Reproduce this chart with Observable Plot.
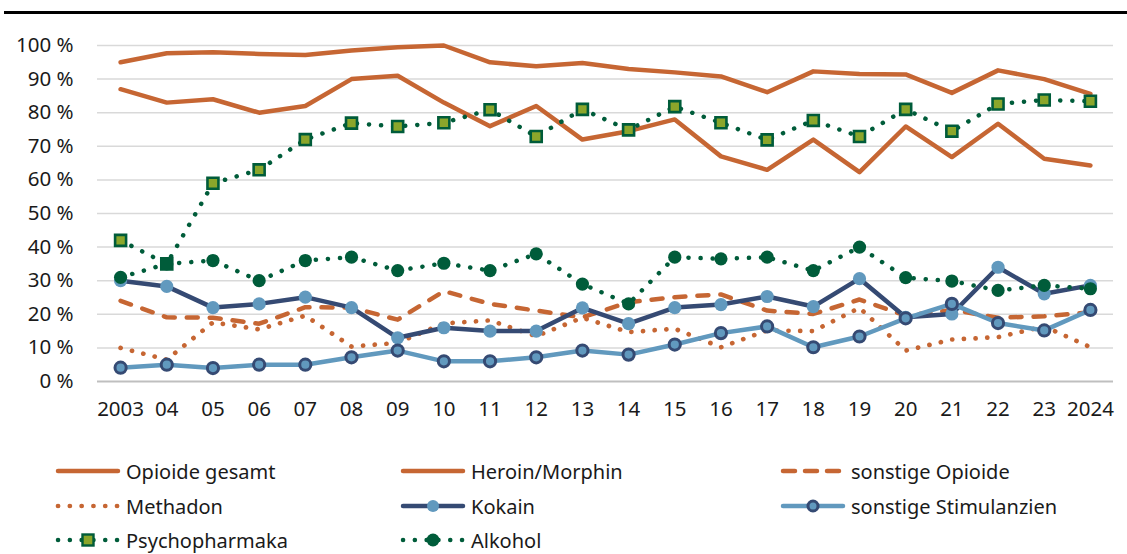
<!DOCTYPE html>
<html><head><meta charset="utf-8">
<script src="https://cdn.jsdelivr.net/npm/d3@7"></script>
<script src="https://cdn.jsdelivr.net/npm/@observablehq/plot@0.6"></script>
<style>
body{margin:0;background:#fff;font-family:"Noto Sans",sans-serif;color:#1a1a1a;}
#wrap{position:relative;width:1127px;height:554px;overflow:hidden;background:#fff;}
#rule{position:absolute;left:4px;right:0;top:11px;height:3px;background:#000;}
#chart{position:absolute;left:0;top:0;}
.lg{position:absolute;display:flex;align-items:center;font-size:20px;white-space:nowrap;}
.lg svg{margin-right:5px;}
</style></head>
<body>
<div id="wrap"><div id="chart"></div><div id="rule"></div><div id="legend"></div></div>
<script>
const years = [2003,2004,2005,2006,2007,2008,2009,2010,2011,2012,2013,2014,2015,2016,2017,2018,2019,2020,2021,2022,2023,2024];
const yearLabels = ["2003","04","05","06","07","08","09","10","11","12","13","14","15","16","17","18","19","20","21","22","23","2024"];
const yTicks = [0,10,20,30,40,50,60,70,80,90,100];

const opioideGesamt = [95,97.7,98,97.5,97.2,98.5,99.5,100,95,93.8,94.8,93,92,90.8,86.1,92.3,91.5,91.4,85.9,92.6,90,85.6];
const heroinMorphin = [87,83,84,80,82,90,91,83,76,82,72,74.5,78,67,63,72,62.3,75.9,66.8,76.7,66.3,64.3];
const sonstigeOpioide = [24,19.1,19,17.2,22.1,22,18.4,26.9,23.1,21.1,19.1,23.6,25.1,25.9,21.1,20.1,24.4,19.6,21.3,19,19.4,20.6];
const methadon = [10,6.5,17.6,15.5,19.6,10.4,11.5,17.3,18.2,13.5,19,14.7,15.7,10.2,15.2,15,21.9,9.2,12.5,13.2,16.4,10.2];
const kokain = [30,28.3,22,23.1,25.1,22,13,16,15,15,21.9,17.2,22,22.9,25.3,22.3,30.6,19.1,20.1,34,26.1,28.6];
const sonstigeStimulanzien = [4.1,5,4,5,5,7.2,9.2,6,6,7.2,9.2,8,11,14.4,16.4,10.2,13.4,18.8,23.1,17.4,15.2,21.3];
const psychopharmaka = [42,35,59,63,72,76.9,75.9,77,80.9,72.9,81,74.9,81.8,77,71.9,77.7,72.9,81,74.5,82.6,83.8,83.4];
const alkohol = [31,35,36,30,36,37,33,35.2,33,38,29,23.1,37,36.5,37,33,40,30.9,29.9,27.1,28.6,27.6];

const ORANGE = "#c66633", NAVY = "#354a73", LBLUE = "#6199be", DGREEN = "#005c3a", OLIVE = "#8ba62b";

const series = [
  {name:"Opioide gesamt", values:opioideGesamt, stroke:ORANGE, w:4.5},
  {name:"Heroin/Morphin", values:heroinMorphin, stroke:ORANGE, w:4.5},
  {name:"sonstige Opioide", values:sonstigeOpioide, stroke:ORANGE, w:4.5, dash:"11,12"},
  {name:"Methadon", values:methadon, stroke:ORANGE, w:4.7, dash:"0.1,11.6"},
  {name:"Kokain", values:kokain, stroke:NAVY, w:4.5, marker:"kok"},
  {name:"sonstige Stimulanzien", values:sonstigeStimulanzien, stroke:LBLUE, w:4.5, marker:"stim"},
  {name:"Psychopharmaka", values:psychopharmaka, stroke:DGREEN, w:4.5, dash:"0.1,12", marker:"psy"},
  {name:"Alkohol", values:alkohol, stroke:DGREEN, w:4.5, dash:"0.1,12", marker:"alk"}
];
const dataOf = s => years.map((y,i)=>({year:y, value:s.values[i]}));
const labelOf = new Map(years.map((y,i)=>[y, yearLabels[i]]));

function markerMarks(s, data){
  if (s.marker==="kok") return [Plot.dot(data,{x:"year",y:"value",r:6.6,fill:LBLUE,stroke:null})];
  if (s.marker==="stim") return [Plot.dot(data,{x:"year",y:"value",r:5.6,fill:LBLUE,stroke:NAVY,strokeWidth:3})];
  if (s.marker==="psy") return [Plot.dot(data,{x:"year",y:"value",symbol:"square",r:6.2,fill:OLIVE,stroke:DGREEN,strokeWidth:2.6})];
  if (s.marker==="alk") return [Plot.dot(data,{x:"year",y:"value",r:6.6,fill:DGREEN,stroke:null})];
  return [];
}

const marks = [
  Plot.ruleY(yTicks.filter(d=>d>0),{stroke:"#d9d9d9",strokeWidth:1.5}),
  Plot.ruleY([0],{stroke:"#bfbfbf",strokeWidth:2.2}),
  Plot.axisY({ticks:yTicks, tickFormat:d=>d+" %", tickSize:0, tickPadding:24, fontSize:20.5}),
  Plot.axisX({ticks:years, tickFormat:d=>labelOf.get(d), tickSize:0, tickPadding:20, fontSize:20.5})
];
for (const s of series){
  const data = dataOf(s);
  marks.push(Plot.line(data,{x:"year",y:"value",stroke:s.stroke,strokeWidth:s.w,strokeDasharray:s.dash,strokeLinecap:"round",strokeLinejoin:"round"}));
  marks.push(...markerMarks(s,data));
}

const plot = Plot.plot({
  width:1127, height:440,
  marginTop:45, marginBottom:59, marginLeft:97, marginRight:14,
  x:{domain:[2002.5,2024.5], label:null},
  y:{domain:[0,100], label:null},
  style:{fontFamily:"Noto Sans", fontSize:"20px", color:"#1a1a1a", background:"transparent", overflow:"visible"},
  marks
});
document.getElementById("chart").appendChild(plot);

// legend
const pos = [[55,472],[400,472],[780,472],[55,507],[400,507],[780,507],[55,541],[400,541]];
const legend = d3.select("#legend");
series.forEach((s,i)=>{
  const [lx,ly] = pos[i];
  const item = legend.append("div").attr("class","lg").style("left",lx+"px").style("top",(ly-15)+"px").style("height","28px");
  const sw = 66;
  const svg = item.append("svg").attr("width",sw).attr("height",20);
  svg.append("line").attr("x1",3).attr("x2",sw-3).attr("y1",10).attr("y2",10)
    .attr("stroke",s.stroke).attr("stroke-width",s.w).attr("stroke-linecap","round")
    .attr("stroke-dasharray",s.dash==="11,12"?"12,10":(s.dash?"0.1,11.7":null));
  const cx = sw/2;
  if (s.marker==="kok") svg.append("circle").attr("cx",cx).attr("cy",10).attr("r",6).attr("fill",LBLUE);
  if (s.marker==="stim") svg.append("circle").attr("cx",cx).attr("cy",10).attr("r",5).attr("fill",LBLUE).attr("stroke",NAVY).attr("stroke-width",3);
  if (s.marker==="psy") svg.append("rect").attr("x",cx-5.5).attr("y",4.5).attr("width",11).attr("height",11).attr("fill",OLIVE).attr("stroke",DGREEN).attr("stroke-width",2.4);
  if (s.marker==="alk") svg.append("circle").attr("cx",cx).attr("cy",10).attr("r",6.5).attr("fill",DGREEN);
  item.append("span").text(s.name);
});
</script>
</body></html>
